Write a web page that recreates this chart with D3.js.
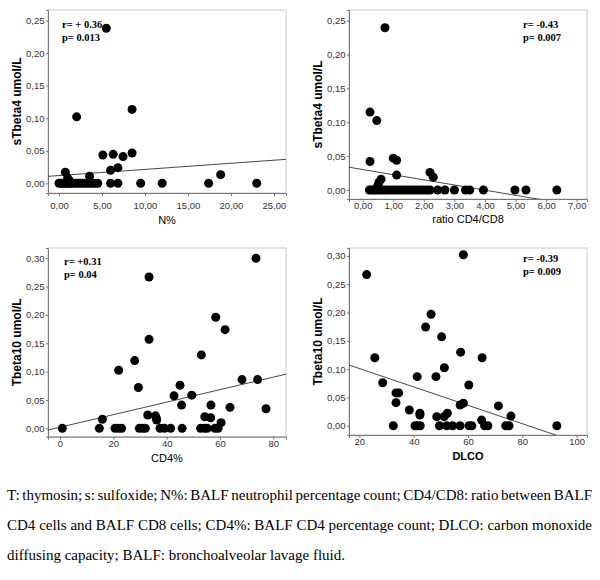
<!DOCTYPE html>
<html><head><meta charset="utf-8">
<script src="https://cdn.jsdelivr.net/npm/d3@7"></script>
<style>
html,body{margin:0;padding:0;background:#fff;}
svg{display:block;}
</style></head>
<body>
<svg id="chart" width="600" height="580"></svg>
<script>
// ---------- DATA ----------
// Panel 1: N% vs sTbeta4
const nPct = [5.5, 2.05, 8.5, 5.1, 6.3, 7.45, 8.5, 6.0, 6.85, 3.55, 0.74, 1.0, 1.2, 18.8,
  0.0, 0.3, 0.5, 0.7, 0.9, 1.1, 1.3, 1.5, 1.8, 2.1, 2.4, 2.7, 3.0, 3.3, 3.6, 3.9, 4.2, 4.5, 6.0, 6.85, 9.5, 12.0, 17.4, 23.0];
const sTb4ByN = [0.238, 0.102, 0.1135, 0.0435, 0.0445, 0.041, 0.0465, 0.020, 0.024, 0.011, 0.017, 0.008, 0.004, 0.0133,
  0, 0, 0, 0, 0, 0, 0, 0, 0, 0, 0, 0, 0, 0, 0, 0, 0, 0, 0, 0, 0, 0, 0, 0];
// Panel 2: ratio CD4/CD8 vs sTbeta4
const ratioCD4CD8 = [0.73, 0.24, 0.46, 0.24, 1.0, 1.11, 1.11, 2.2, 2.31, 0.6, 0.53, 0.49,
  0.22, 0.3, 0.38, 0.46, 0.55, 0.63, 0.72, 0.8, 0.9, 1.0, 1.1, 1.2, 1.3, 1.4, 1.5, 1.6, 1.7, 1.8, 1.9, 2.0, 2.1, 2.2, 2.45, 2.69, 3.0, 3.36, 3.5, 3.95, 4.98, 5.34, 6.35];
const sTb4ByRatio = [0.2396, 0.115, 0.1025, 0.042, 0.047, 0.044, 0.022, 0.026, 0.019, 0.016, 0.011, 0.006,
  0, 0, 0, 0, 0, 0, 0, 0, 0, 0, 0, 0, 0, 0, 0, 0, 0, 0, 0, 0, 0, 0, 0, 0, 0, 0, 0, 0, 0, 0, 0];
// Panel 3: CD4% vs Tbeta10
const cd4Pct = [73.5, 33.4, 58.4, 61.9, 33.4, 53, 28, 22, 68.25, 74.1, 29.4, 45, 42.75, 49.4, 45.6, 56.6, 63.75, 77.25, 32.9, 35.8, 36.1, 36.25, 15.9, 54.3, 56.5, 60.4,
  0.87, 14.75, 20.6, 21.9, 23.1, 29.75, 31, 32, 37.5, 39.2, 41.5, 45.8, 52.7, 54.2, 55.2, 58.1, 59.3];
const tb10ByCD4 = [0.300, 0.267, 0.196, 0.174, 0.157, 0.1295, 0.1195, 0.1025, 0.086, 0.086, 0.072, 0.076, 0.0573, 0.0585, 0.041, 0.041, 0.037, 0.0345, 0.0234, 0.022, 0.018, 0.0146, 0.016, 0.0204, 0.0187, 0.01,
  0, 0, 0, 0, 0, 0, 0, 0, 0, 0, 0, 0, 0, 0, 0, 0, 0];
// Panel 4: DLCO vs Tbeta10
const dlco = [58.3, 22.7, 46.4, 44.4, 50.3, 57.3, 25.7, 65.2, 51.3, 41.3, 48.2, 28.6, 60.3, 33.5, 34.5, 33.5, 38.4, 42.3, 42.3, 48.5, 51.2, 52.4, 57.1, 58.3, 65, 71.2, 75.8,
  32.5, 40.5, 41.4, 42.4, 49.5, 52.2, 54.3, 57.1, 60.4, 61.4, 66.1, 67.3, 73.9, 75.1, 92.7];
const tb10ByDLCO = [0.302, 0.267, 0.197, 0.1745, 0.157, 0.13, 0.12, 0.12, 0.1025, 0.0867, 0.0867, 0.076, 0.072, 0.058, 0.058, 0.0407, 0.0278, 0.022, 0.019, 0.016, 0.016, 0.022, 0.0366, 0.0396, 0.01, 0.035, 0.017,
  0, 0, 0, 0, 0, 0, 0, 0, 0, 0, 0, 0, 0, 0, 0];

// regression lines: [intercept, slope]
const fitN = [0.0119, 0.000943];
const fitRatio = [0.0302, -0.00761];
const fitCD4 = [0.00197, 0.001104];
const fitDLCO = [0.1336, -0.001626];

// tick values
const xTicksN = [0, 5, 10, 15, 20, 25];
const xTicksRatio = [0, 1, 2, 3, 4, 5, 6, 7];
const xTicksCD4 = [0, 20, 40, 60, 80];
const xTicksDLCO = [20, 40, 60, 80, 100];
const yTicksTb4 = [0, 0.05, 0.10, 0.15, 0.20, 0.25];
const yTicksTb10 = [0, 0.05, 0.10, 0.15, 0.20, 0.25, 0.30];

// texts
const xTitles = ["N%", "ratio CD4/CD8", "CD4%", "DLCO"];
const yTitles = ["sTbeta4 umol/L", "sTbeta4 umol/L", "Tbeta10 umol/L", "Tbeta10 umol/L"];
const rTexts = ["r= + 0.36", "r= -0.43", "r= +0.31", "r= -0.39"];
const pTexts = ["p= 0.013", "p= 0.007", "p= 0.04", "p= 0.009"];
const captionLines = [
  "T: thymosin; s: sulfoxide; N%: BALF neutrophil percentage count; CD4/CD8: ratio between BALF",
  "CD4 cells and BALF CD8 cells; CD4%: BALF CD4 percentage count; DLCO: carbon monoxide",
  "diffusing capacity; BALF: bronchoalveolar lavage fluid."
];

// ---------- LAYOUT ----------
const panels = [
  {xs: nPct, ys: sTb4ByN, fit: fitN, xt: xTicksN, yt: yTicksTb4, xfmt: ",.2f",
   left: 48, top: 10, right: 286, bottom: 193, xdom: [-1.28, 26.4], ydom: [-0.0149, 0.2661],
   xPad: 6.5, xTitleY: 224, xBold: false, statX: 14, rY: 18},
  {xs: ratioCD4CD8, ys: sTb4ByRatio, fit: fitRatio, xt: xTicksRatio, yt: yTicksTb4, xfmt: ",.2f",
   left: 349, top: 10, right: 587, bottom: 199, xdom: [-0.448, 7.337], ydom: [-0.0133, 0.2658],
   xPad: 0.5, xTitleY: 223, xBold: false, statX: -64, rY: 18},
  {xs: cd4Pct, ys: tb10ByCD4, fit: fitCD4, xt: xTicksCD4, yt: yTicksTb10, xfmt: "d",
   left: 48, top: 248, right: 286, bottom: 436.7, xdom: [-4.5, 84.75], ydom: [-0.0148, 0.3181],
   xPad: 0.5, xTitleY: 462, xBold: false, statX: 16, rY: 17},
  {xs: dlco, ys: tb10ByDLCO, fit: fitDLCO, xt: xTicksDLCO, yt: yTicksTb10, xfmt: "d",
   left: 349, top: 248, right: 587, bottom: 435, xdom: [16.2, 103.8], ydom: [-0.0164, 0.314],
   xPad: 0.5, xTitleY: 460, xBold: true, statX: -64, rY: 14}
];

const svg = d3.select("#chart");
const commaFmt = f => v => d3.format(f)(v).replace(".", ",");
const yFmt = v => d3.format(".2f")(v).replace(".", ",");

panels.forEach((p, i) => {
  const x = d3.scaleLinear().domain(p.xdom).range([p.left, p.right]);
  const y = d3.scaleLinear().domain(p.ydom).range([p.bottom, p.top]);
  const g = svg.append("g");

  g.append("rect").attr("x", p.left).attr("y", p.top)
    .attr("width", p.right - p.left).attr("height", p.bottom - p.top)
    .attr("fill", "#fff").attr("stroke", "#c8c8c8").attr("stroke-width", 1);

  const xfmt = p.xfmt === "d" ? d3.format("d") : commaFmt(".2f");
  const xa = g.append("g").attr("transform", `translate(0,${p.bottom})`)
    .call(d3.axisBottom(x).tickValues(p.xt).tickFormat(xfmt).tickSize(3).tickPadding(p.xPad));
  const ya = g.append("g").attr("transform", `translate(${p.left},0)`)
    .call(d3.axisLeft(y).tickValues(p.yt).tickFormat(yFmt).tickSize(2).tickPadding(1.5));
  [xa, ya].forEach(a => {
    a.select(".domain").attr("stroke", "#777");
    a.selectAll(".tick line").attr("stroke", "#777");
    a.selectAll(".tick text").attr("fill", "#333").style("font-family", "Arial, 'Liberation Sans', sans-serif").style("font-size", "9.5px");
  });

  const cid = "clip" + i;
  svg.append("clipPath").attr("id", cid).append("rect")
    .attr("x", p.left).attr("y", p.top).attr("width", p.right - p.left).attr("height", p.bottom - p.top);

  const lineData = p.xdom.map(v => [v, p.fit[0] + p.fit[1] * v]);
  g.append("path").datum(lineData)
    .attr("clip-path", `url(#${cid})`)
    .attr("d", d3.line().x(d => x(d[0])).y(d => y(d[1])))
    .attr("stroke", "#333").attr("stroke-width", 0.9).attr("fill", "none");

  g.append("g").selectAll("circle").data(p.xs.map((v, k) => [v, p.ys[k]])).join("circle")
    .attr("cx", d => x(d[0])).attr("cy", d => y(d[1])).attr("r", 4.5).attr("fill", "#000");

  const sx = p.statX >= 0 ? p.left + p.statX : p.right + p.statX;
  const st = g.append("g").style("font-family", "'Liberation Serif', 'Times New Roman', serif")
    .style("font-weight", "bold").style("font-size", "10.5px").attr("fill", "#000");
  st.append("text").attr("x", sx).attr("y", p.top + p.rY).text(rTexts[i]);
  st.append("text").attr("x", sx).attr("y", p.top + p.rY + 12.5).text(pTexts[i]);

  g.append("text").attr("x", (p.left + p.right) / 2).attr("y", p.xTitleY)
    .attr("text-anchor", "middle").attr("fill", "#000")
    .style("font-family", "Arial, 'Liberation Sans', sans-serif").style("font-size", "11px")
    .style("font-weight", p.xBold ? "bold" : "normal").text(xTitles[i]);
  const cy = (p.top + p.bottom) / 2;
  const tx = p.left - 27;
  g.append("text").attr("transform", `translate(${tx},${cy}) rotate(-90)`)
    .attr("text-anchor", "middle").attr("fill", "#000")
    .style("font-family", "Arial, 'Liberation Sans', sans-serif").style("font-size", "12px")
    .style("font-weight", "bold").text(yTitles[i]);
});

// caption (justified lines 1-2)
const capLeft = 7, capRight = 592;
const capBase = [500, 530, 560];
captionLines.forEach((line, i) => {
  const t = svg.append("text").attr("x", capLeft).attr("y", capBase[i])
    .style("font-family", "'Liberation Serif', 'Times New Roman', serif").style("font-size", "15px")
    .attr("fill", "#000").text(line);
  if (i < captionLines.length - 1) {
    const w = t.node().getComputedTextLength();
    const spaces = (line.match(/ /g) || []).length;
    t.style("word-spacing", ((capRight - capLeft - w) / spaces) + "px");
  }
});
</script>
</body></html>
